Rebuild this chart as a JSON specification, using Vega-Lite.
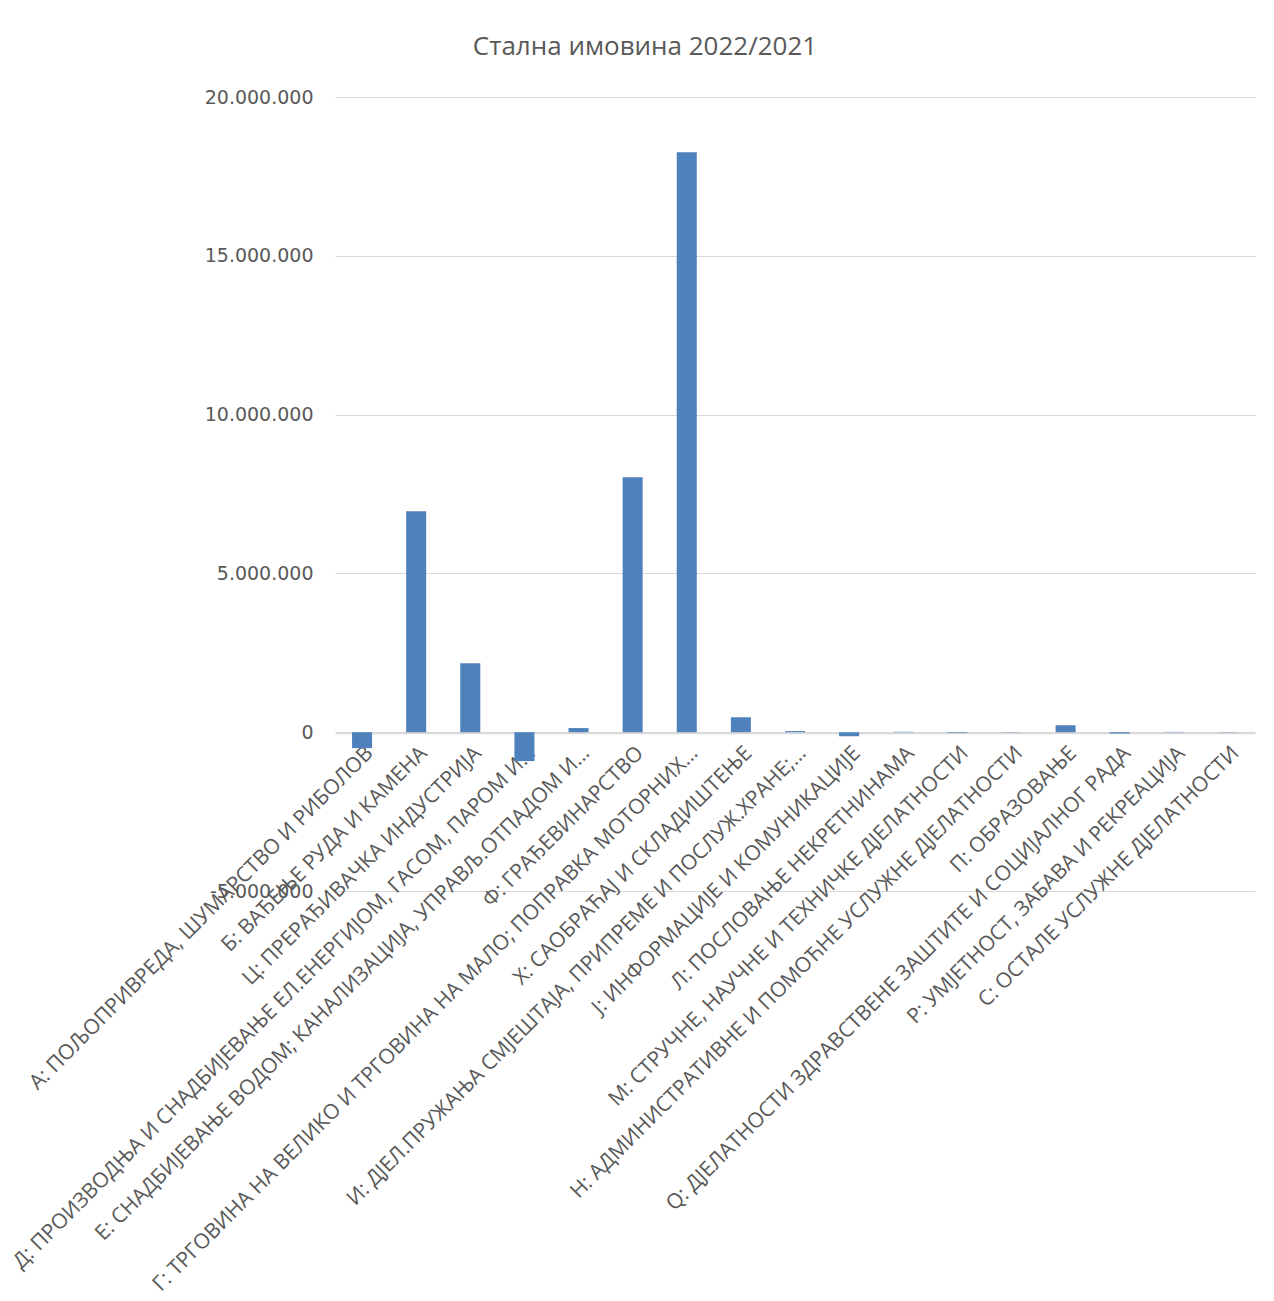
{
  "$schema": "https://vega.github.io/schema/vega-lite/v6.json",
  "width": 920,
  "height": 794,
  "autosize": {"type": "none"},
  "padding": {"left": 335, "top": 97, "right": 19, "bottom": 410},
  "background": "white",
  "title": {
    "text": "Стална имовина 2022/2021",
    "fontSize": 26,
    "font": "Open Sans",
    "fontWeight": "normal",
    "color": "#595959",
    "anchor": "middle",
    "dx": -150,
    "offset": 28
  },
  "data": {
    "values": [
      {"sector": "А: ПОЉОПРИВРЕДА, ШУМАРСТВО И РИБОЛОВ", "value": -500000},
      {"sector": "Б: ВАЂЕЊЕ РУДА И КАМЕНА", "value": 6960000},
      {"sector": "Ц: ПРЕРАЂИВАЧКА ИНДУСТРИЈА", "value": 2170000},
      {"sector": "Д: ПРОИЗВОДЊА И СНАДБИЈЕВАЊЕ ЕЛ.ЕНЕРГИЈОМ, ГАСОМ, ПАРОМ И…", "value": -910000},
      {"sector": "Е: СНАДБИЈЕВАЊЕ ВОДОМ; КАНАЛИЗАЦИЈА, УПРАВЉ.ОТПАДОМ И…", "value": 130000},
      {"sector": "Ф: ГРАЂЕВИНАРСТВО", "value": 8030000},
      {"sector": "Г: ТРГОВИНА НА ВЕЛИКО И ТРГОВИНА НА МАЛО; ПОПРАВКА МОТОРНИХ…", "value": 18260000},
      {"sector": "Х: САОБРАЋАЈ И СКЛАДИШТЕЊЕ", "value": 470000},
      {"sector": "И: ДЈЕЛ.ПРУЖАЊА СМЈЕШТАЈА, ПРИПРЕМЕ И ПОСЛУЖ.ХРАНЕ;…", "value": 35000},
      {"sector": "Ј: ИНФОРМАЦИЈЕ И КОМУНИКАЦИЈЕ", "value": -130000},
      {"sector": "Л: ПОСЛОВАЊЕ НЕКРЕТНИНАМА", "value": 12000},
      {"sector": "М: СТРУЧНЕ, НАУЧНЕ И ТЕХНИЧКЕ ДЈЕЛАТНОСТИ", "value": -20000},
      {"sector": "Н: АДМИНИСТРАТИВНЕ И ПОМОЋНЕ УСЛУЖНЕ ДЈЕЛАТНОСТИ", "value": 6000},
      {"sector": "П: ОБРАЗОВАЊЕ", "value": 220000},
      {"sector": "Q: ДЈЕЛАТНОСТИ ЗДРАВСТВЕНЕ ЗАШТИТЕ И СОЦИЈАЛНОГ РАДА", "value": -40000},
      {"sector": "Р: УМЈЕТНОСТ, ЗАБАВА И РЕКРЕАЦИЈА", "value": 10000},
      {"sector": "С: ОСТАЛЕ УСЛУЖНЕ ДЈЕЛАТНОСТИ", "value": 4000}
    ]
  },
  "mark": {"type": "bar", "color": "#4F81BD"},
  "encoding": {
    "x": {
      "field": "sector",
      "type": "nominal",
      "sort": null,
      "scale": {"paddingInner": 0.63, "paddingOuter": 0.315},
      "axis": {
        "title": null,
        "labelAngle": -45,
        "offset": -158,
        "labelLimit": 0,
        "labelFontSize": 21,
        "labelFont": "Open Sans",
        "labelColor": "#595959",
        "ticks": false,
        "labelPadding": 9,
        "domainColor": "#D9D9D9",
        "domainWidth": 1.5
      }
    },
    "y": {
      "field": "value",
      "type": "quantitative",
      "scale": {"domain": [-5000000, 20000000], "nice": false},
      "axis": {
        "title": null,
        "values": [-5000000, 0, 5000000, 10000000, 15000000, 20000000],
        "labelExpr": "replace(replace(format(datum.value, ','), regexp(',', 'g'), '.'), '−', '-')",
        "domain": false,
        "ticks": false,
        "gridColor": "#D9D9D9",
        "gridWidth": 1.2,
        "labelPadding": 22,
        "labelFontSize": 19,
        "labelFont": "DejaVu Sans",
        "labelColor": "#595959"
      }
    }
  },
  "config": {"view": {"stroke": null}}
}
